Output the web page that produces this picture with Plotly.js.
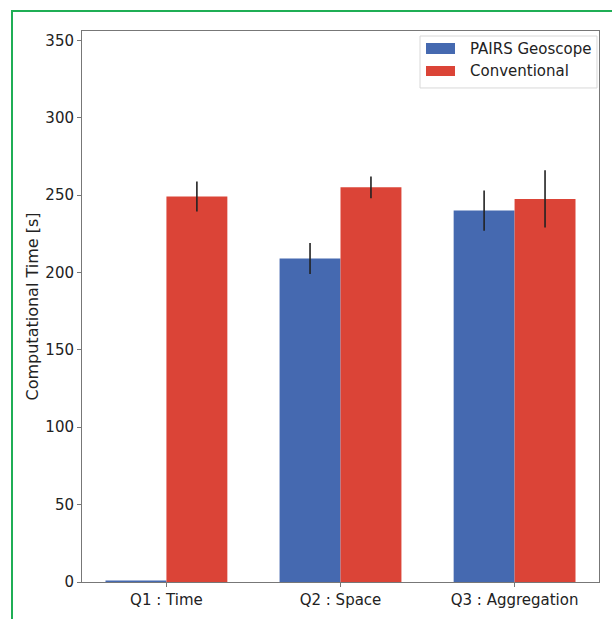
<!DOCTYPE html>
<html><head><meta charset="utf-8">
<script src="https://cdn.plot.ly/plotly-3.0.1.min.js"></script>
<style>
html,body{margin:0;padding:0;background:#fff;}
#frame{position:absolute;left:11px;top:10px;width:620px;height:640px;border-left:2px solid #1fae55;border-top:2px solid #1fae55;pointer-events:none;z-index:10;}
#chart{width:612px;height:619px;}
</style>
</head><body>
<div id="frame"></div>
<div id="chart"></div>
<script>
const categories = ["Q1 : Time", "Q2 : Space", "Q3 : Aggregation"];
const seriesNames = ["PAIRS Geoscope", "Conventional"];
const pairsValues = [1, 209, 240];
const pairsErrors = [0, 10, 13];
const convValues = [249, 255, 247.5];
const convErrors = [9.7, 7, 18.5];
const yTicks = [0, 50, 100, 150, 200, 250, 300, 350];
const colors = ["#4569b0", "#db4437"];

const idx = categories.map((c, i) => i);
const bw = 0.35;

const traces = [
  {type: "bar", name: seriesNames[0], x: idx.map(i => i - bw/2), y: pairsValues, width: bw,
   marker: {color: colors[0]},
   error_y: {type: "data", array: pairsErrors, visible: true, color: "#222", thickness: 1.6, width: 0}},
  {type: "bar", name: seriesNames[1], x: idx.map(i => i + bw/2), y: convValues, width: bw,
   marker: {color: colors[1]},
   error_y: {type: "data", array: convErrors, visible: true, color: "#222", thickness: 1.6, width: 0}}
];

// custom legend (matplotlib style: wide patches)
const shapes = [
  {type: "rect", xref: "paper", yref: "paper", x0: 0.6538, x1: 0.9961, y0: 0.8966, y1: 0.9909,
   line: {color: "#d8d8d8", width: 1}, fillcolor: "rgba(255,255,255,0.9)"},
  {type: "rect", xref: "paper", yref: "paper", x0: 0.6654, x1: 0.7215, y0: 0.9583, y1: 0.9782,
   line: {width: 0}, fillcolor: colors[0]},
  {type: "rect", xref: "paper", yref: "paper", x0: 0.6654, x1: 0.7215, y0: 0.9183, y1: 0.9365,
   line: {width: 0}, fillcolor: colors[1]}
];
const annotations = [
  {xref: "paper", yref: "paper", x: 0.7466, y: 0.9682, xanchor: "left", yanchor: "middle",
   text: seriesNames[0], showarrow: false, font: {size: 15, color: "#222"}},
  {xref: "paper", yref: "paper", x: 0.7466, y: 0.9266, xanchor: "left", yanchor: "middle",
   text: seriesNames[1], showarrow: false, font: {size: 15, color: "#222"}}
];

const layout = {
  width: 612, height: 619,
  margin: {l: 82, r: 13, t: 31, b: 37},
  paper_bgcolor: "#fff", plot_bgcolor: "#fff",
  barmode: "overlay",
  font: {family: "DejaVu Sans, sans-serif", size: 15, color: "#222"},
  xaxis: {range: [-0.485, 2.485], tickvals: idx, ticktext: categories, showgrid: false, zeroline: false,
          showline: true, mirror: true, linecolor: "#777", linewidth: 1, ticks: "outside", ticklen: 4, tickcolor: "#777",
          tickfont: {size: 15}},
  yaxis: {range: [0, 356], tickvals: yTicks, showgrid: false, zeroline: false,
          showline: true, mirror: true, linecolor: "#777", linewidth: 1, ticks: "outside", ticklen: 4, tickcolor: "#777",
          tickfont: {size: 15},
          title: {text: "Computational Time [s]", font: {size: 16}, standoff: 2}},
  shapes: shapes,
  annotations: annotations,
  showlegend: false
};

Plotly.newPlot("chart", traces, layout, {displayModeBar: false, staticPlot: true});
</script>
</body></html>
